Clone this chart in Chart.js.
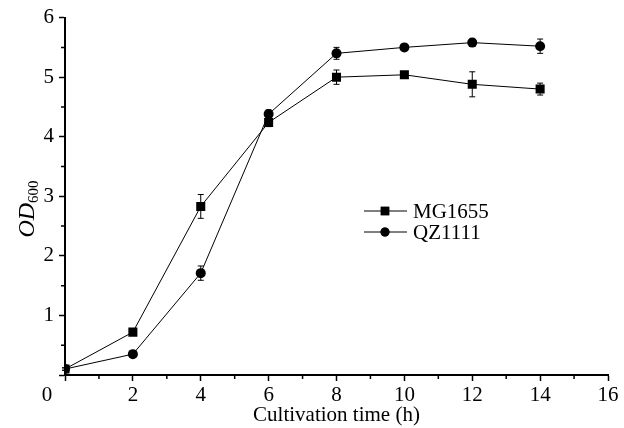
<!DOCTYPE html>
<html>
<head>
<meta charset="utf-8">
<script src="https://cdn.jsdelivr.net/npm/chart.js@4.4.1/dist/chart.umd.min.js"></script>
<style>
  html,body{margin:0;padding:0;background:#fff;}
  #wrap{width:624px;height:428px;position:relative;}
</style>
</head>
<body>
<div id="wrap"><canvas id="c" width="624" height="428"></canvas></div>
<script>
// growth curve data
var hours   = [0, 2, 4, 6, 8, 10, 12, 14];
var mg1655  = [0.10, 0.72, 2.83, 4.24, 5.00, 5.04, 4.88, 4.80];
var mg1655Err = [0.02, 0.03, 0.20, 0.07, 0.12, 0.03, 0.21, 0.10];
var qz1111  = [0.10, 0.35, 1.71, 4.38, 5.40, 5.50, 5.58, 5.52];
var qz1111Err = [0.02, 0.02, 0.12, 0.07, 0.10, 0.03, 0.06, 0.12];
var seriesNames = ['MG1655', 'QZ1111'];
var xTitle = 'Cultivation time (h)';

var FONT = '"Liberation Serif", "Times New Roman", serif';

function pts(xs, ys){ return xs.map(function(x,i){ return {x:x, y:ys[i]}; }); }

// error bars + minor ticks + origin label + y title + legend, all through the chart scales
var extras = {
  id:'extras',
  afterDatasetsDraw:function(chart){
    var ctx=chart.ctx, xs=chart.scales.x, ys=chart.scales.y;
    ctx.save();
    ctx.strokeStyle='#000'; ctx.lineWidth=1;
    chart.data.datasets.forEach(function(ds){
      (ds.errors||[]).forEach(function(e,i){
        var p=ds.data[i];
        var px=xs.getPixelForValue(p.x);
        var top=ys.getPixelForValue(p.y+e), bot=ys.getPixelForValue(p.y-e);
        ctx.beginPath();
        ctx.moveTo(px,top); ctx.lineTo(px,bot);
        ctx.moveTo(px-3,top); ctx.lineTo(px+3,top);
        ctx.moveTo(px-3,bot); ctx.lineTo(px+3,bot);
        ctx.stroke();
      });
    });
    ctx.restore();
  },
  afterDraw:function(chart){
    var ctx=chart.ctx, xs=chart.scales.x, ys=chart.scales.y, a=chart.chartArea;
    ctx.save();
    ctx.strokeStyle='#000'; ctx.lineWidth=1.5;
    // minor ticks
    ctx.beginPath();
    for(var v=1; v<16; v+=2){ var px=xs.getPixelForValue(v); ctx.moveTo(px,a.bottom); ctx.lineTo(px,a.bottom+4); }
    for(var w=0.5; w<6; w+=1){ var py=ys.getPixelForValue(w); ctx.moveTo(a.left,py); ctx.lineTo(a.left-4,py); }
    ctx.stroke();

    // shared origin label sits left of the y axis
    ctx.fillStyle='#000';
    ctx.font='21px '+FONT;
    ctx.textAlign='center'; ctx.textBaseline='middle';
    ctx.fillText('0', a.left-18, a.bottom+20);

    // y title: italic OD with subscript 600
    ctx.translate(26, 209);
    ctx.rotate(-Math.PI/2);
    ctx.textAlign='left'; ctx.textBaseline='alphabetic';
    ctx.font='italic 24px '+FONT;
    var w1=ctx.measureText('OD').width;
    ctx.font='15px '+FONT;
    var w2=ctx.measureText('600').width;
    var sx=-(w1+w2)/2;
    ctx.font='italic 24px '+FONT;
    ctx.fillText('OD', sx, 8);
    ctx.font='15px '+FONT;
    ctx.fillText('600', sx+w1, 12);
    ctx.restore();

    // legend
    ctx.save();
    var lx=364, ly=211, gap=21;
    chart.data.datasets.forEach(function(ds,i){
      var y=ly+i*gap;
      ctx.strokeStyle='#000'; ctx.lineWidth=1;
      ctx.beginPath(); ctx.moveTo(lx,y); ctx.lineTo(lx+43,y); ctx.stroke();
      Chart.helpers.drawPoint(ctx,{pointStyle:ds.pointStyle,radius:ds.legendRadius,rotation:0,borderWidth:0},lx+21,y);
      ctx.fillStyle='#000';
      ctx.fill();
      ctx.font='21px '+FONT;
      ctx.textBaseline='middle';
      ctx.fillText(ds.label, lx+49, y+1);
    });
    ctx.restore();
  }
};

new Chart(document.getElementById('c'),{
  type:'line',
  data:{
    datasets:[
      {label:seriesNames[0], data:pts(hours,mg1655), errors:mg1655Err,
       borderColor:'#000', backgroundColor:'#000', borderWidth:1,
       pointStyle:'rect', pointRadius:6.4, legendRadius:6, pointBackgroundColor:'#000', pointBorderWidth:0, tension:0},
      {label:seriesNames[1], data:pts(hours,qz1111), errors:qz1111Err,
       borderColor:'#000', backgroundColor:'#000', borderWidth:1,
       pointStyle:'circle', pointRadius:5, legendRadius:4.5, pointBackgroundColor:'#000', pointBorderWidth:0, tension:0}
    ]
  },
  options:{
    responsive:false, animation:false, devicePixelRatio:1,
    layout:{padding:{left:0, top:15, right:16, bottom:0}},
    plugins:{legend:{display:false}, tooltip:{enabled:false}},
    scales:{
      x:{type:'linear', min:0, max:16,
         ticks:{stepSize:2, color:'#000', font:{family:FONT, size:21}, padding:2, maxRotation:0,
                callback:function(v){ return v===0 ? '' : v; }},
         grid:{drawOnChartArea:false, tickLength:6, tickColor:'#000', tickWidth:1.5},
         border:{color:'#000', width:2},
         title:{display:true, text:xTitle, color:'#000', font:{family:FONT, size:21}, padding:{top:0, bottom:0}},
         afterFit:function(s){ s.height=53; }},
      y:{type:'linear', min:0, max:6,
         ticks:{stepSize:1, color:'#000', font:{family:FONT, size:21}, padding:5,
                callback:function(v){ return v===0 ? '' : v; }},
         grid:{drawOnChartArea:false, tickLength:6, tickColor:'#000', tickWidth:1.5},
         border:{color:'#000', width:2},
         afterFit:function(s){ s.width=65; }}
    }
  },
  plugins:[extras]
});
</script>
</body>
</html>
